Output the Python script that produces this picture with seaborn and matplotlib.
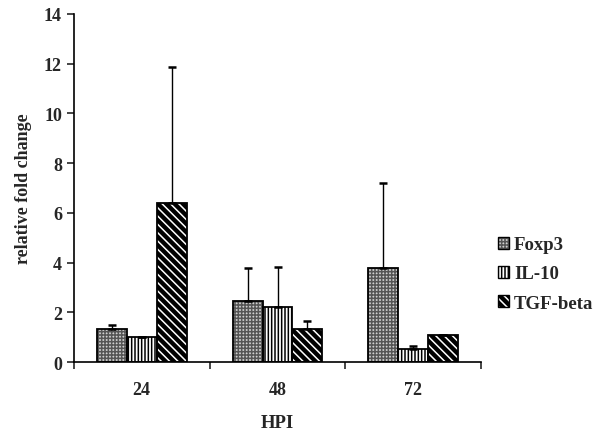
import matplotlib
matplotlib.use('Agg')
import matplotlib.pyplot as plt
from matplotlib.patches import Patch, Rectangle
import numpy as np
import pandas as pd
import seaborn as sns

# values
hpi = ['24', '48', '72']
genes = ['Foxp3', 'IL-10', 'TGF-beta']
foxp3 = [1.33, 2.45, 3.80]
il10 = [1.00, 2.22, 0.52]
tgfb = [6.38, 1.32, 1.07]
foxp3_sd = [0.17, 1.35, 3.40]
il10_sd = [0.0, 1.60, 0.13]
tgfb_sd = [5.50, 0.33, 0.03]

means = [foxp3, il10, tgfb]
sds = [foxp3_sd, il10_sd, tgfb_sd]

df = pd.DataFrame([
    {'HPI': h, 'Gene': g, 'Value': means[j][i]}
    for j, g in enumerate(genes)
    for i, h in enumerate(hpi)
])

sns.set_style('white')
plt.rcParams['font.family'] = ['Liberation Serif', 'DejaVu Serif']
plt.rcParams['font.weight'] = 'bold'
plt.rcParams['hatch.linewidth'] = 1.1

fig = plt.figure(figsize=(6, 4.39), dpi=100)
ax = fig.add_axes([0.123, 0.173, 0.679, 0.793])

sns.barplot(data=df, x='HPI', y='Value', hue='Gene', order=hpi, hue_order=genes,
            width=0.66, palette=['white', 'white', 'white'], edgecolor='black',
            linewidth=1.2, errorbar=None, ax=ax, legend=False)

# fill styles per gene: (face, hatch, hatch colour)
styles = [('#d0d0d0', '+++++', '#555555'),
          ('white', '|||||', 'black'),
          ('black', '\\\\\\\\', 'white')]
for cont, (fc, hatch, hc) in zip(ax.containers, styles):
    for p in cont.patches:
        p.set_facecolor(fc)
        p.set_hatch(hatch)
        p.set_edgecolor(hc)
        p.set_linewidth(0)
        ax.add_patch(Rectangle((p.get_x(), p.get_y()), p.get_width(), p.get_height(),
                               fill=False, edgecolor='black', linewidth=1.3, zorder=p.get_zorder() + 0.1))

# upward error bars only
for cont, sd in zip(ax.containers, sds):
    xs = [p.get_x() + p.get_width() / 2 for p in cont.patches]
    ys = [p.get_height() for p in cont.patches]
    ax.errorbar(xs, ys, yerr=[np.zeros(len(sd)), sd], fmt='none',
                ecolor='black', elinewidth=1, capsize=3, capthick=1.8)

# legend
handles = [(Patch(facecolor=fc, edgecolor=hc, hatch=h, linewidth=0),
            Patch(fill=False, edgecolor='black', linewidth=1))
           for fc, h, hc in styles]
ax.legend(handles, genes, loc='center left', bbox_to_anchor=(1.0, 0.253),
          frameon=False, handlelength=0.6, handleheight=0.6,
          handletextpad=0.25, labelspacing=0.65,
          prop={'family': 'Liberation Serif', 'weight': 'bold', 'size': 13.5})

ax.set_ylim(0, 14)
ax.set_yticks(np.arange(0, 15, 2))
ax.set_xlim(-0.5, 2.5)
ax.set_xticks([-0.5, 0.5, 1.5, 2.5])
ax.set_xticklabels([])
ax.set_xticks([0, 1, 2], minor=True)
ax.set_xticklabels(hpi, minor=True)
ax.tick_params(axis='x', which='major', direction='out', length=5, width=1.2, bottom=True)
ax.tick_params(axis='x', which='minor', length=0, pad=13.5, labelsize=13)
ax.tick_params(axis='y', direction='out', length=5, width=1.2, left=True, labelsize=13)

for s in ['top', 'right']:
    ax.spines[s].set_visible(False)
for s in ['left', 'bottom']:
    ax.spines[s].set_color('black')
    ax.spines[s].set_linewidth(1.2)

ax.set_xlabel('HPI', fontsize=13.5, fontweight='bold', labelpad=12)
ax.set_ylabel('relative fold change', fontsize=13, fontweight='bold')
ax.yaxis.set_label_coords(-0.103, 0.5)

fig.savefig('out.png', dpi=100)
